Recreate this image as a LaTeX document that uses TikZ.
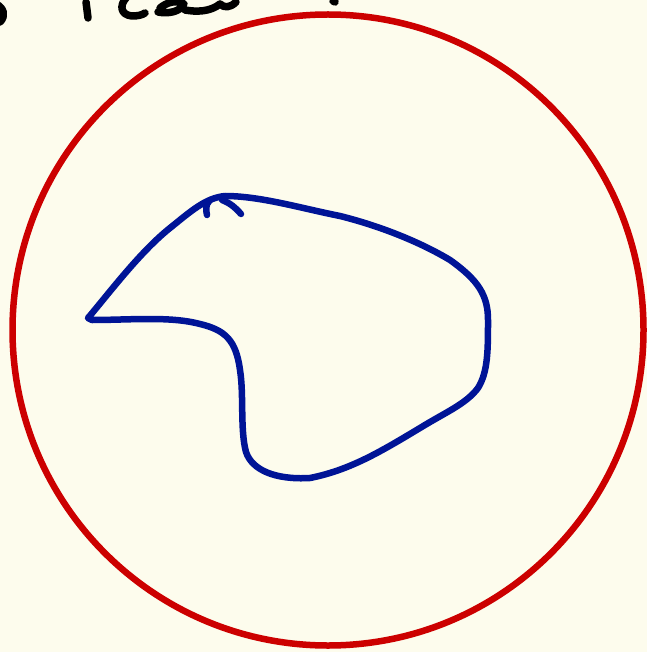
\documentclass[tikz,border=0pt]{standalone}
\usetikzlibrary{calc}
\begin{document}
\begin{tikzpicture}[x=1pt,y=-1pt,
  ink/.style={line width=7.5pt,line cap=round,line join=round,black},
  redring/.style={line width=6.5pt,draw={rgb,255:red,204;green,0;blue,0}},
  blueink/.style={line width=6.5pt,line cap=round,line join=round,draw={rgb,255:red,0;green,20;blue,150}}]
\fill[fill={rgb,255:red,253;green,252;blue,237}] (0,0) rectangle (647,652);
\useasboundingbox (0,0) rectangle (647,652);
\begin{scope}
\clip (0,0) rectangle (647,652);
% handwritten text fragments at the top (cut off)
\draw[ink] (-4,4) .. controls (4,8) and (6,16) .. (0,22);
\draw[ink] (86,2) -- (88,18);
\draw[ink] (78,-4) -- (112,-6);
\draw[ink] (126,-2) .. controls (119,6) and (121,15) .. (132,16) .. controls (138,16) and (142,15) .. (145,13);
\draw[ink] (160,8) .. controls (166,3) and (176,-1) .. (184,4) .. controls (180,12) and (168,14) .. (158,12);
\draw[ink] (185,10) .. controls (196,12) and (210,12) .. (220,4) .. controls (224,8) and (230,8) .. (236,2);
\draw[ink] (333,1) -- (335,2);
\end{scope}
% red circle
\node[circle,redring,minimum size=631pt,inner sep=0pt] (ring) at (328,330) {};
% blue closed curve
\draw[blueink] (88,318)
  .. controls (110,292) and (140,252) .. (170,228)
  .. controls (190,212) and (205,198) .. (225,196)
  .. controls (260,196) and (300,208) .. (340,216)
  .. controls (380,226) and (420,242) .. (450,260)
  .. controls (478,280) and (488,295) .. (488,320)
  .. controls (488,350) and (488,372) .. (478,388)
  .. controls (466,404) and (446,412) .. (420,428)
  .. controls (380,452) and (350,470) .. (310,478)
  .. controls (275,480) and (252,470) .. (246,452)
  .. controls (240,430) and (244,395) .. (240,370)
  .. controls (236,340) and (225,330) .. (200,324)
  .. controls (170,316) and (130,320) .. (92,320)
  -- cycle;
\draw[blueink] (210,200) .. controls (205,205) and (206,210) .. (207,215);
\draw[blueink] (222,200) .. controls (230,203) and (236,208) .. (241,214);
\end{tikzpicture}
\end{document}
